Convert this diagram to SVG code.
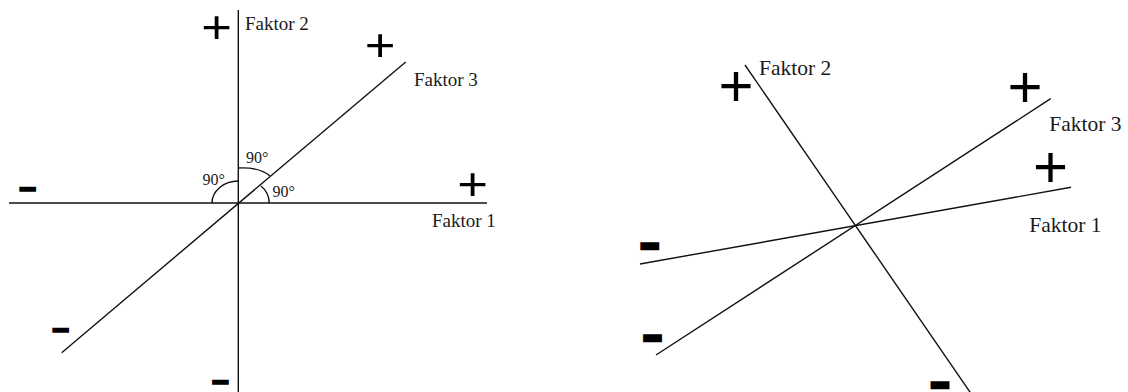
<svg xmlns="http://www.w3.org/2000/svg" width="1128" height="392" viewBox="0 0 1128 392">
<style>
.ax{stroke:#111;stroke-width:1.4;fill:none;stroke-linecap:butt}
.arc{stroke:#111;stroke-width:1.4;fill:none}
.lbl{font-family:"Liberation Serif","Times New Roman",serif;fill:#1a1a1a}
.sgn{font-family:"Liberation Sans",Arial,sans-serif;fill:#000;text-anchor:middle}
.mn{font-family:"Liberation Sans",Arial,sans-serif;font-weight:bold;font-size:12px;fill:#000;stroke:#000;stroke-linejoin:miter;text-anchor:middle}
.mnL{stroke-width:3.4}
.mnR{stroke-width:6.4}
</style>
<rect width="1128" height="392" fill="#fff"/>
<g id="connectors">
  <line class="ax" x1="238.3" y1="10" x2="238.3" y2="392"/>
  <line class="ax" x1="9" y1="203" x2="487" y2="203"/>
  <line class="ax" x1="61.7" y1="352.7" x2="405.7" y2="62"/>
  <path class="arc" d="M212,203 A26.3,22 0 0 1 238.3,181"/>
  <path class="arc" d="M238.3,168 C250,167.5 262,169 270,176"/>
  <path class="arc" d="M261,186 C266,190 269,196 269.3,203"/>
  <line class="ax" x1="745" y1="65" x2="972" y2="395"/>
  <line class="ax" x1="656" y1="355" x2="1050.7" y2="98.7"/>
  <line class="ax" x1="640" y1="264" x2="1071" y2="187.3"/>
</g>
<g id="left-labels">
  <text class="lbl" x="245" y="29.5" font-size="19">Faktor 2</text>
  <text class="lbl" x="414" y="86" font-size="19">Faktor 3</text>
  <text class="lbl" x="432" y="226.5" font-size="19">Faktor 1</text>
  <text class="lbl" x="246" y="163.3" font-size="16">90°</text>
  <text class="lbl" x="202.5" y="185" font-size="16">90°</text>
  <text class="lbl" x="272.5" y="197" font-size="16">90°</text>
</g>
<g id="left-signs">
  <text class="sgn" transform="translate(216.7,27.7) scale(1.12,1)" x="0" y="15.5" font-size="47">+</text>
  <text class="sgn" transform="translate(380,45) scale(1.12,1)" x="0" y="15.5" font-size="47">+</text>
  <text class="sgn" transform="translate(472.5,184) scale(1.12,1)" x="0" y="15.5" font-size="47">+</text>
  <text class="mn mnL" transform="translate(27.7,189.8) scale(2.59,1)" x="0" y="3.4">-</text>
  <text class="mn mnL" transform="translate(60.7,330.5) scale(2.59,1)" x="0" y="3.4">-</text>
  <text class="mn mnL" transform="translate(220.3,383) scale(2.59,1)" x="0" y="3.4">-</text>
</g>
<g id="right-labels">
  <text class="lbl" x="759" y="75" font-size="21.5">Faktor 2</text>
  <text class="lbl" x="1049.3" y="130.7" font-size="21.5">Faktor 3</text>
  <text class="lbl" x="1029.3" y="231.5" font-size="21.5">Faktor 1</text>
</g>
<g id="right-signs">
  <text class="sgn" x="736" y="106" font-size="60">+</text>
  <text class="sgn" x="1025" y="107" font-size="60">+</text>
  <text class="sgn" x="1050.5" y="187" font-size="60">+</text>
  <text class="mn mnR" transform="translate(649.7,246.7) scale(2,1)" x="0" y="3.4">-</text>
  <text class="mn mnR" transform="translate(652.5,338.7) scale(2,1)" x="0" y="3.4">-</text>
  <text class="mn mnR" transform="translate(940,386) scale(2,1)" x="0" y="3.4">-</text>
</g>
</svg>
